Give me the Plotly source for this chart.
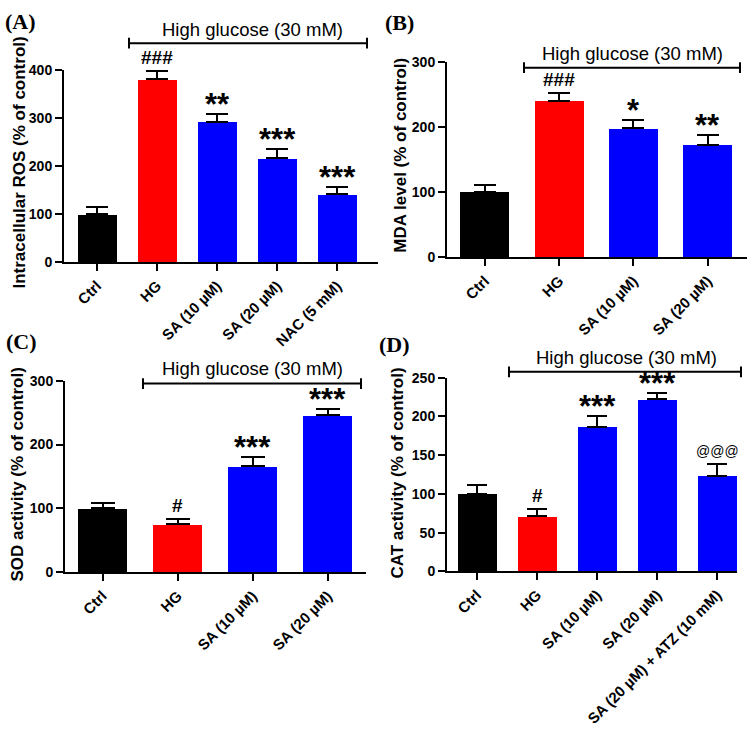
import plotly.graph_objects as go

# ---------------- data ----------------
A_categories = ["Ctrl", "HG", "SA (10 µM)", "SA (20 µM)", "NAC (5 mM)"]
A_values = [100, 380, 292, 216, 141]
A_errors = [14, 17, 16, 20, 16]
A_marks = ["", "###", "**", "***", "***"]

B_categories = ["Ctrl", "HG", "SA (10 µM)", "SA (20 µM)"]
B_values = [100, 240, 198, 173]
B_errors = [11, 12, 13, 14]
B_marks = ["", "###", "*", "**"]

C_categories = ["Ctrl", "HG", "SA (10 µM)", "SA (20 µM)"]
C_values = [100, 75, 166, 246]
C_errors = [9, 8, 15, 10]
C_marks = ["", "#", "***", "***"]

D_categories = ["Ctrl", "HG", "SA (10 µM)", "SA (20 µM)", "SA (20 µM) + ATZ (10 mM)"]
D_values = [100, 71, 187, 222, 123]
D_errors = [12, 9, 13, 8.5, 15]
D_marks = ["", "#", "***", "***", "@@@"]

A_title = "Intracellular ROS (% of control)"
B_title = "MDA level (% of control)"
C_title = "SOD activity (% of control)"
D_title = "CAT activity (% of control)"
bracket_label = "High glucose (30 mM)"

# ---------------- helpers ----------------
W, H = 750, 731
def px(x):
    return x / W
def py(y):
    return 1 - y / H

RED, BLUE, BLACK = "#FF0000", "#0000FF", "#000000"
def colors(n):
    return [BLACK, RED] + [BLUE] * (n - 2)

SANS = "Liberation Sans"
SERIF = "Liberation Serif"

fig = go.Figure()

panels = [
    dict(k="", cats=A_categories, vals=A_values, errs=A_errors, marks=A_marks, title=A_title,
         xd=(64, 378), yd=(260, 63), xr=[-0.55, 4.68], yr=[0, 400], bw=0.65, cap=11, dt=100,
         lab="(A)", labxy=(20, 14), ytxy=(20, 158),
         br=(129, 367, 36), btxt=(252, 22)),
    dict(k="2", cats=B_categories, vals=B_values, errs=B_errors, marks=B_marks, title=B_title,
         xd=(447, 747), yd=(255, 55), xr=[-0.51, 3.53], yr=[0, 300], bw=0.66, cap=11, dt=100,
         lab="(B)", labxy=(399, 15), ytxy=(401, 150),
         br=(524, 740, 61), btxt=(632, 47)),
    dict(k="3", cats=C_categories, vals=C_values, errs=C_errors, marks=C_marks, title=C_title,
         xd=(65, 366), yd=(577, 381), xr=[-0.50, 3.51], yr=[0, 300], bw=0.66, cap=12, dt=100,
         lab="(C)", labxy=(21, 341), ytxy=(18, 477),
         br=(143, 361, 384), btxt=(252, 369)),
    dict(k="4", cats=D_categories, vals=D_values, errs=D_errors, marks=D_marks, title=D_title,
         xd=(447, 737), yd=(576, 378), xr=[-0.50, 4.33], yr=[0, 250], bw=0.65, cap=10, dt=50,
         lab="(D)", labxy=(395, 344), ytxy=(398, 475),
         br=(509, 741, 372), btxt=(626, 357)),
]

annotations = []
shapes = []

for p in panels:
    k = p["k"]
    xa, ya = "x" + k, "y" + k
    fig.add_trace(go.Bar(
        x=p["cats"], y=p["vals"], width=p["bw"],
        marker=dict(color=colors(len(p["cats"])), line=dict(width=0)),
        error_y=dict(type="data", array=p["errs"], arrayminus=[0] * len(p["errs"]),
                     symmetric=False, color="black", thickness=2, width=p["cap"]),
        xaxis=xa, yaxis=ya, showlegend=False,
    ))
    common = dict(showline=True, linecolor="black", linewidth=2, ticks="outside",
                  ticklen=7, tickwidth=2, tickcolor="black", showgrid=False, zeroline=False)
    fig.layout["xaxis" + k] = dict(
        domain=[px(p["xd"][0]), px(p["xd"][1])], anchor=ya, range=p["xr"],
        type="category", categoryorder="array", categoryarray=p["cats"],
        tickangle=-45, tickfont=dict(family=SANS, size=15, color="black", weight="bold"),
        **common)
    fig.layout["yaxis" + k] = dict(
        domain=[py(p["yd"][0]), py(p["yd"][1])], anchor=xa, range=p["yr"],
        dtick=p["dt"], tick0=0,
        tickfont=dict(family=SANS, size=14, color="black", weight="bold"), **common)

    # significance marks
    for c, v, e, m in zip(p["cats"], p["vals"], p["errs"], p["marks"]):
        if not m:
            continue
        if m.startswith("*"):
            f = dict(family=SANS, size=31, color="black", weight="bold")
            ys = -10
        elif m.startswith("#"):
            f = dict(family=SANS, size=19, color="black", weight="bold")
            ys = 1
        else:
            f = dict(family=SANS, size=14, color="black")
            ys = 3
        annotations.append(dict(x=c, y=v + e, xref=xa, yref=ya, text=m, showarrow=False,
                                xanchor="center", yanchor="bottom", yshift=ys, font=f))

    # panel label
    annotations.append(dict(x=px(p["labxy"][0]), y=py(p["labxy"][1]), xref="paper", yref="paper",
                            text=p["lab"], showarrow=False, xanchor="center", yanchor="middle",
                            font=dict(family=SERIF, size=22, color="black", weight="bold")))
    # y title
    annotations.append(dict(x=px(p["ytxy"][0]), y=py(p["ytxy"][1]), xref="paper", yref="paper",
                            text=p["title"], showarrow=False, textangle=-90,
                            xanchor="center", yanchor="middle",
                            font=dict(family=SANS, size=17, color="black", weight="bold")))
    # bracket
    x0, x1, yb = p["br"]
    shapes.append(dict(type="line", xref="paper", yref="paper", x0=px(x0), x1=px(x1),
                       y0=py(yb), y1=py(yb), line=dict(color="black", width=2)))
    for xe in (x0, x1):
        shapes.append(dict(type="line", xref="paper", yref="paper", x0=px(xe), x1=px(xe),
                           y0=py(yb - 5.5), y1=py(yb + 5.5), line=dict(color="black", width=2)))
    annotations.append(dict(x=px(p["btxt"][0]), y=py(p["btxt"][1]), xref="paper", yref="paper",
                            text=bracket_label, showarrow=False, xanchor="center", yanchor="middle",
                            font=dict(family=SANS, size=18.5, color="black")))

fig.update_layout(
    width=W, height=H, margin=dict(l=0, r=0, t=0, b=0),
    paper_bgcolor="white", plot_bgcolor="white", showlegend=False,
    annotations=annotations, shapes=shapes, bargap=0,
)

fig.write_html("out.html", config={"displayModeBar": False},
               post_script="document.body.style.margin='0';")
